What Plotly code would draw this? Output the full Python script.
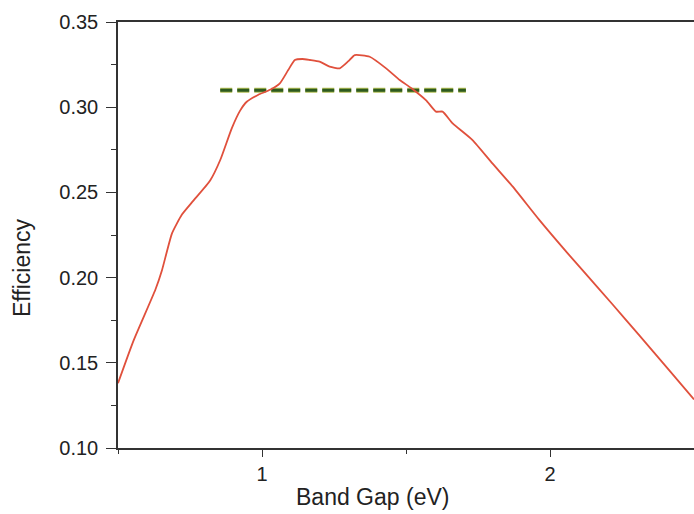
import plotly.graph_objects as go

band_gap = [0.50, 0.554, 0.63, 0.653, 0.6875, 0.722, 0.761, 0.82, 0.855, 0.895, 0.924, 0.947,
            0.986, 1.028, 1.062, 1.091, 1.114, 1.14, 1.166, 1.20, 1.235, 1.27, 1.30, 1.322, 1.374,
            1.431, 1.478, 1.52, 1.57, 1.604, 1.627, 1.662, 1.731, 1.80, 1.87, 1.962,
            2.06, 2.112, 2.216, 2.308, 2.412, 2.50]
efficiency = [0.138, 0.163, 0.193, 0.2045, 0.226, 0.237, 0.245, 0.257, 0.269, 0.2876, 0.298, 0.3032,
              0.3072, 0.3102, 0.314, 0.3218, 0.3277, 0.3283, 0.3277, 0.3267, 0.3238, 0.3228, 0.327, 0.3306, 0.3296,
              0.3228, 0.316, 0.311, 0.304, 0.2974, 0.2974, 0.2905, 0.2807, 0.267, 0.2535, 0.234,
              0.2145, 0.2045, 0.1845, 0.1665, 0.146, 0.1285]

ref_x = [0.855, 1.708]
ref_y = [0.31, 0.31]

y_ticks = [0.10, 0.15, 0.20, 0.25, 0.30, 0.35]
y_labels = ["0.10", "0.15", "0.20", "0.25", "0.30", "0.35"]
x_ticks = [1, 2]
x_labels = ["1", "2"]

fig = go.Figure()
fig.add_trace(go.Scatter(x=ref_x, y=ref_y, mode="lines",
                         line=dict(color="#b3bf55", width=5, dash="12px,5px"),
                         hoverinfo="skip", showlegend=False))
fig.add_trace(go.Scatter(x=ref_x, y=ref_y, mode="lines",
                         line=dict(color="#2d5a1f", width=3, dash="12px,5px"),
                         showlegend=False))
fig.add_trace(go.Scatter(x=band_gap, y=efficiency, mode="lines",
                         line=dict(color="#e0503c", width=1.8, shape="spline", smoothing=0.5),
                         showlegend=False))

font_family = "Arial, Liberation Sans, sans-serif"
tick_font = dict(family=font_family, size=20, color="#222")
title_font = dict(family=font_family, size=23, color="#222")
fig.update_layout(
    width=694, height=514,
    margin=dict(l=118, r=0, t=22, b=66),
    plot_bgcolor="white", paper_bgcolor="white",
    xaxis=dict(range=[0.5, 2.5], tickvals=x_ticks, ticktext=x_labels,
               showgrid=False, zeroline=False, showline=True, linecolor="#333", linewidth=1.5,
               mirror=True, ticks="outside", ticklen=7, tickcolor="#333", tickfont=tick_font,
               minor=dict(dtick=0.5, tick0=0.5, ticks="outside", ticklen=4, tickcolor="#333")),
    yaxis=dict(range=[0.10, 0.35], tickvals=y_ticks, ticktext=y_labels,
               showgrid=False, zeroline=False, showline=True, linecolor="#333", linewidth=1.5,
               ticks="outside", ticklen=10, tickcolor="#333", tickfont=tick_font,
               ticklabelstandoff=4,
               minor=dict(dtick=0.025, tick0=0.1, ticks="outside", ticklen=5, tickcolor="#333")),
    annotations=[
        dict(text="Band Gap (eV)", xref="paper", yref="paper", x=(372 - 118) / 576, y=0,
             yshift=-49, showarrow=False, yanchor="middle",
             font=title_font),
        dict(text="Efficiency", xref="paper", yref="paper", x=0, xshift=-96, y=(448 - 268) / 426,
             textangle=-90, showarrow=False, xanchor="center", yanchor="middle",
             font=title_font),
    ],
)

fig.write_html("out.html", config={"displayModeBar": False},
               post_script="document.body.style.margin='0px';")
